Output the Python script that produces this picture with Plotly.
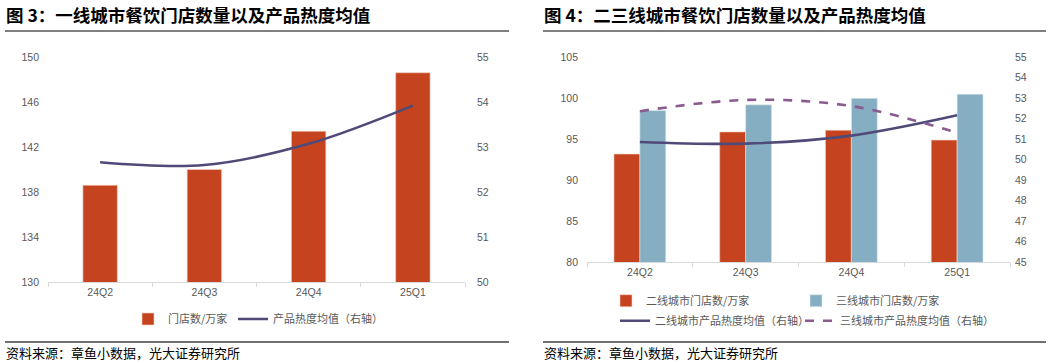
import plotly.graph_objects as go

W, H = 1054, 363

# ---- data ----
quarters = ["24Q2", "24Q3", "24Q4", "25Q1"]
tier1_stores = [138.6, 140.0, 143.4, 148.6]
tier1_heat = [52.66, 52.6, 53.07, 53.92]

tier2_stores = [93.2, 95.9, 96.1, 94.9]
tier3_stores = [98.5, 99.2, 100.0, 100.5]
tier2_heat = [50.87, 50.79, 51.18, 52.17]
tier3_heat = [52.37, 52.92, 52.62, 51.32]

RED = "#C5441F"
BLUE = "#85AEC2"
NAVY = "#4F4A77"
PURPLE = "#8B5A8E"
TXT = "#595959"
FONT = "Noto Sans CJK SC, Noto Sans, sans-serif"
NUMFONT = "Liberation Sans, Arial, sans-serif"


def px(x):
    return x / W


def py(y):
    return 1 - y / H


fig = go.Figure()

# ---- left chart ----
fig.add_trace(go.Bar(x=quarters, y=tier1_stores, name="门店数/万家",
                     marker=dict(color=RED, line=dict(color="#F2D0C5", width=0.6)),
                     width=0.33, xaxis="x", yaxis="y", legend="legend"))
fig.add_trace(go.Scatter(x=quarters, y=tier1_heat, name="产品热度均值（右轴）",
                         mode="lines", line=dict(color=NAVY, width=2.6, shape="spline"),
                         xaxis="x", yaxis="y2", legend="legend2"))

# ---- right chart ----
fig.add_trace(go.Bar(x=quarters, y=tier2_stores, name="二线城市门店数/万家",
                     marker=dict(color=RED, line=dict(color="#F2D0C5", width=0.6)),
                     width=0.245, offset=-0.245, xaxis="x2", yaxis="y3", legend="legend3"))
fig.add_trace(go.Bar(x=quarters, y=tier3_stores, name="三线城市门店数/万家",
                     marker=dict(color=BLUE, line=dict(color="#DDEAF0", width=0.6)),
                     width=0.245, offset=0, xaxis="x2", yaxis="y3", legend="legend4"))
fig.add_trace(go.Scatter(x=quarters, y=tier2_heat, name="二线城市产品热度均值（右轴）",
                         mode="lines", line=dict(color=NAVY, width=2.6, shape="spline"),
                         xaxis="x2", yaxis="y4", legend="legend5"))
fig.add_trace(go.Scatter(x=quarters, y=tier3_heat, name="三线城市产品热度均值（右轴）",
                         mode="lines", line=dict(color=PURPLE, width=2.6, shape="spline", dash="dash"),
                         xaxis="x2", yaxis="y4", legend="legend6"))

tickfont = dict(family=NUMFONT, size=10.5, color=TXT)
xcommon = dict(type="category", showline=True, linecolor="#D9D9D9", linewidth=1,
               ticks="outside", tickson="boundaries", ticklen=4, tickcolor="#D9D9D9",
               showgrid=False, tickfont=tickfont, zeroline=False, automargin=False)
ycommon = dict(showgrid=False, zeroline=False, showline=False, tickfont=tickfont,
               ticks="", automargin=False)


def leg(xl, yc):
    return dict(orientation="v", x=px(xl), y=py(yc), xanchor="left", yanchor="middle",
                font=dict(family=FONT, size=11, color=TXT), bgcolor="rgba(0,0,0,0)",
                itemwidth=30, borderwidth=0, tracegroupgap=0)


fig.update_layout(
    width=W, height=H,
    margin=dict(l=0, r=0, t=0, b=0, autoexpand=False),
    paper_bgcolor="white", plot_bgcolor="white",
    font=dict(family=FONT, color=TXT),
    barmode="overlay",
    xaxis=dict(domain=[px(48), px(465)], anchor="y", **xcommon),
    yaxis=dict(domain=[py(282), py(57)], range=[130, 150], dtick=4, tick0=130,
               ticklabelstandoff=8, **ycommon),
    yaxis2=dict(overlaying="y", side="right", range=[50, 55], dtick=1, tick0=50,
                anchor="x", ticklabelstandoff=11, **ycommon),
    xaxis2=dict(domain=[px(587), px(1010)], anchor="y3", **xcommon),
    yaxis3=dict(domain=[py(262.3), py(57.3)], range=[80, 105], dtick=5, tick0=80,
                anchor="x2", ticklabelstandoff=8, **ycommon),
    yaxis4=dict(overlaying="y3", side="right", range=[45, 55], dtick=1, tick0=45,
                anchor="x2", ticklabelstandoff=4, **ycommon),
    legend=leg(128, 319),
    legend2=leg(233, 319),
    legend3=leg(606, 300.7),
    legend4=leg(796, 300.7),
    legend5=leg(615, 320.7),
    legend6=leg(800, 320.7),
    showlegend=True,
)

# titles, rules and sources
annos = [
    dict(text="<b>图 3：一线城市餐饮门店数量以及产品热度均值</b>", x=px(4), y=py(15)),
    dict(text="<b>图 4：二三线城市餐饮门店数量以及产品热度均值</b>", x=px(542), y=py(15)),
]
for a in annos:
    fig.add_annotation(xref="paper", yref="paper", xanchor="left", yanchor="middle",
                       showarrow=False, font=dict(family=FONT, size=17.5, color="#000000"), **a)
for x0 in (4, 542):
    fig.add_annotation(text="资料来源：章鱼小数据，光大证券研究所", xref="paper", yref="paper",
                       x=px(x0), y=py(352), xanchor="left", yanchor="middle", showarrow=False,
                       font=dict(family=FONT, size=13, color="#000000"))

for x0, x1 in ((5, 509), (543, 1046)):
    fig.add_shape(type="line", xref="paper", yref="paper", x0=px(x0), x1=px(x1),
                  y0=py(31), y1=py(31), line=dict(color="#7F7F7F", width=2))
    fig.add_shape(type="line", xref="paper", yref="paper", x0=px(x0), x1=px(x1),
                  y0=py(342), y1=py(342), line=dict(color="#404040", width=1.5))

fig.write_html("out.html", config={"displayModeBar": False},
               post_script="document.body.style.margin='0';document.body.style.padding='0';")
